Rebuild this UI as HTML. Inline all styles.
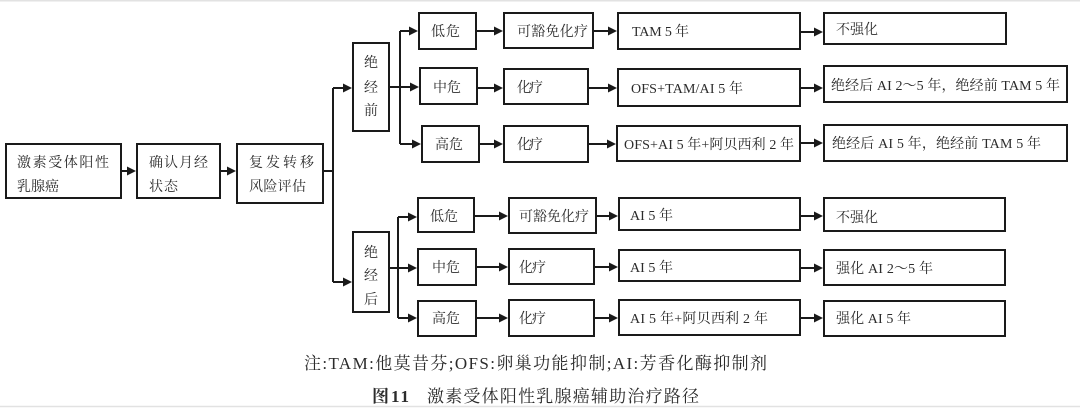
<!DOCTYPE html>
<html>
<head>
<meta charset="utf-8">
<style>
html,body{margin:0;padding:0;background:#fff;}
body{width:1080px;height:408px;overflow:hidden;}
svg{display:block;}
text{font-family:"Liberation Serif","Noto Serif CJK SC",serif;fill:#2b2b2b;}
</style>
</head>
<body>
<svg width="1080" height="408" viewBox="0 0 1080 408" xmlns="http://www.w3.org/2000/svg">
<rect x="0" y="0" width="1080" height="408" fill="#fff"/>
<line x1="0" y1="0.75" x2="1080" y2="0.75" stroke="#e2e2e2" stroke-width="1.5"/>
<line x1="0" y1="406.5" x2="1080" y2="406.5" stroke="#e2e2e2" stroke-width="1.5"/>

<g fill="none" stroke="#1a1a1a" stroke-width="2">
<!-- main boxes -->
<rect x="6" y="144" width="115" height="54"/>
<rect x="137" y="144" width="83" height="54"/>
<rect x="237" y="144" width="86" height="59"/>
<rect x="353" y="43" width="36" height="88"/>
<rect x="353" y="232" width="36" height="80"/>
<!-- upper rows -->
<rect x="419" y="13" width="57" height="36"/>
<rect x="504" y="13" width="89" height="35"/>
<rect x="618" y="13" width="182" height="36"/>
<rect x="824" y="13" width="182" height="31"/>

<rect x="420" y="68" width="57" height="36"/>
<rect x="504" y="69" width="84" height="35"/>
<rect x="618" y="69" width="182" height="37"/>
<rect x="824" y="66" width="243" height="36"/>

<rect x="422" y="126" width="57" height="36"/>
<rect x="504" y="126" width="84" height="36"/>
<rect x="617" y="126" width="183" height="35"/>
<rect x="824" y="125" width="243" height="36"/>
<!-- lower rows -->
<rect x="418" y="198" width="56" height="34"/>
<rect x="509" y="198" width="87" height="35"/>
<rect x="619" y="198" width="181" height="32"/>
<rect x="824" y="198" width="181" height="33"/>

<rect x="418" y="249" width="58" height="36"/>
<rect x="509" y="249" width="85" height="35"/>
<rect x="619" y="250" width="181" height="31"/>
<rect x="824" y="250" width="181" height="35"/>

<rect x="418" y="301" width="58" height="35"/>
<rect x="509" y="300" width="85" height="36"/>
<rect x="619" y="300" width="181" height="35"/>
<rect x="824" y="301" width="181" height="35"/>

<!-- connector lines -->
<path d="M122 171H128 M221 171H228 M324 171H333 M333 88V282 M333 88H344 M333 282H344"/>
<path d="M390 87H400 M400 31V144 M400 31H410 M400 87H411 M400 144H413"/>
<path d="M390 268H398 M398 217V318 M398 217H409 M398 268H409 M398 318H409"/>
<path d="M477 31H495 M594 31H609 M801 32H815"/>
<path d="M478 88H495 M589 88H609 M801 88H815"/>
<path d="M480 144H495 M589 144H608 M801 143H815"/>
<path d="M475 216H500 M597 216H610 M801 216H815"/>
<path d="M477 267H500 M595 267H610 M801 268H815"/>
<path d="M477 318H500 M595 318H610 M801 318H815"/>
</g>

<g fill="#1a1a1a">
<polygon points="136,171 127,166.5 127,175.5"/>
<polygon points="236,171 227,166.5 227,175.5"/>
<polygon points="352,88 343,83.5 343,92.5"/>
<polygon points="352,282 343,277.5 343,286.5"/>
<polygon points="418,31 409,26.5 409,35.5"/>
<polygon points="419,87 410,82.5 410,91.5"/>
<polygon points="421,144 412,139.5 412,148.5"/>
<polygon points="417,217 408,212.5 408,221.5"/>
<polygon points="417,268 408,263.5 408,272.5"/>
<polygon points="417,318 408,313.5 408,322.5"/>

<polygon points="503,31 494,26.5 494,35.5"/>
<polygon points="617,31 608,26.5 608,35.5"/>
<polygon points="823,32 814,27.5 814,36.5"/>
<polygon points="503,88 494,83.5 494,92.5"/>
<polygon points="617,88 608,83.5 608,92.5"/>
<polygon points="823,88 814,83.5 814,92.5"/>
<polygon points="503,144 494,139.5 494,148.5"/>
<polygon points="616,144 607,139.5 607,148.5"/>
<polygon points="823,143 814,138.5 814,147.5"/>

<polygon points="508,216 499,211.5 499,220.5"/>
<polygon points="618,216 609,211.5 609,220.5"/>
<polygon points="823,216 814,211.5 814,220.5"/>
<polygon points="508,267 499,262.5 499,271.5"/>
<polygon points="618,267 609,262.5 609,271.5"/>
<polygon points="823,268 814,263.5 814,272.5"/>
<polygon points="508,318 499,313.5 499,322.5"/>
<polygon points="618,318 609,313.5 609,322.5"/>
<polygon points="823,318 814,313.5 814,322.5"/>
</g>

<g font-size="14">
<text x="17" y="167" textLength="92" lengthAdjust="spacing">激素受体阳性</text>
<text x="17" y="191" textLength="42" lengthAdjust="spacing">乳腺癌</text>
<text x="149" y="167" textLength="59" lengthAdjust="spacing">确认月经</text>
<text x="149" y="191" textLength="29" lengthAdjust="spacing">状态</text>
<text x="249" y="167" textLength="65" lengthAdjust="spacing">复发转移</text>
<text x="249" y="191" textLength="57" lengthAdjust="spacing">风险评估</text>

<text x="371" y="67" text-anchor="middle">绝</text>
<text x="371" y="92" text-anchor="middle">经</text>
<text x="371" y="115" text-anchor="middle">前</text>
<text x="371" y="257" text-anchor="middle">绝</text>
<text x="371" y="280" text-anchor="middle">经</text>
<text x="371" y="304" text-anchor="middle">后</text>

<text x="431" y="36" textLength="29" lengthAdjust="spacing">低危</text>
<text x="517" y="36" textLength="71" lengthAdjust="spacing">可豁免化疗</text>
<text x="632" y="36" textLength="57" lengthAdjust="spacing">TAM 5 年</text>
<text x="836" y="34" textLength="42" lengthAdjust="spacing">不强化</text>

<text x="433" y="92" textLength="28" lengthAdjust="spacing">中危</text>
<text x="517" y="92" textLength="26" lengthAdjust="spacing">化疗</text>
<text x="631" y="93" textLength="112" lengthAdjust="spacing">OFS+TAM/AI 5 年</text>
<text x="831" y="90" textLength="229" lengthAdjust="spacing">绝经后 AI 2～5 年，绝经前 TAM 5 年</text>

<text x="435" y="149" textLength="28" lengthAdjust="spacing">高危</text>
<text x="517" y="149" textLength="26" lengthAdjust="spacing">化疗</text>
<text x="624" y="149" textLength="170" lengthAdjust="spacing">OFS+AI 5 年+阿贝西利 2 年</text>
<text x="832" y="148" textLength="209" lengthAdjust="spacing">绝经后 AI 5 年，绝经前 TAM 5 年</text>

<text x="430" y="221" textLength="28" lengthAdjust="spacing">低危</text>
<text x="519" y="221" textLength="70" lengthAdjust="spacing">可豁免化疗</text>
<text x="630" y="220" textLength="43" lengthAdjust="spacing">AI 5 年</text>
<text x="836" y="222" textLength="42" lengthAdjust="spacing">不强化</text>

<text x="432" y="272" textLength="28" lengthAdjust="spacing">中危</text>
<text x="519" y="272" textLength="27" lengthAdjust="spacing">化疗</text>
<text x="630" y="272" textLength="43" lengthAdjust="spacing">AI 5 年</text>
<text x="836" y="273" textLength="97" lengthAdjust="spacing">强化 AI 2～5 年</text>

<text x="432" y="323" textLength="28" lengthAdjust="spacing">高危</text>
<text x="519" y="323" textLength="27" lengthAdjust="spacing">化疗</text>
<text x="630" y="323" textLength="138" lengthAdjust="spacing">AI 5 年+阿贝西利 2 年</text>
<text x="836" y="323" textLength="75" lengthAdjust="spacing">强化 AI 5 年</text>
</g>

<g font-size="17">
<text x="304" y="369" textLength="463" lengthAdjust="spacing">注:TAM:他莫昔芬;OFS:卵巢功能抑制;AI:芳香化酶抑制剂</text>
<text x="372" y="402" font-weight="bold" textLength="37" lengthAdjust="spacing">图11</text>
<text x="427" y="402" textLength="272" lengthAdjust="spacing">激素受体阳性乳腺癌辅助治疗路径</text>
</g>
</svg>
</body>
</html>
